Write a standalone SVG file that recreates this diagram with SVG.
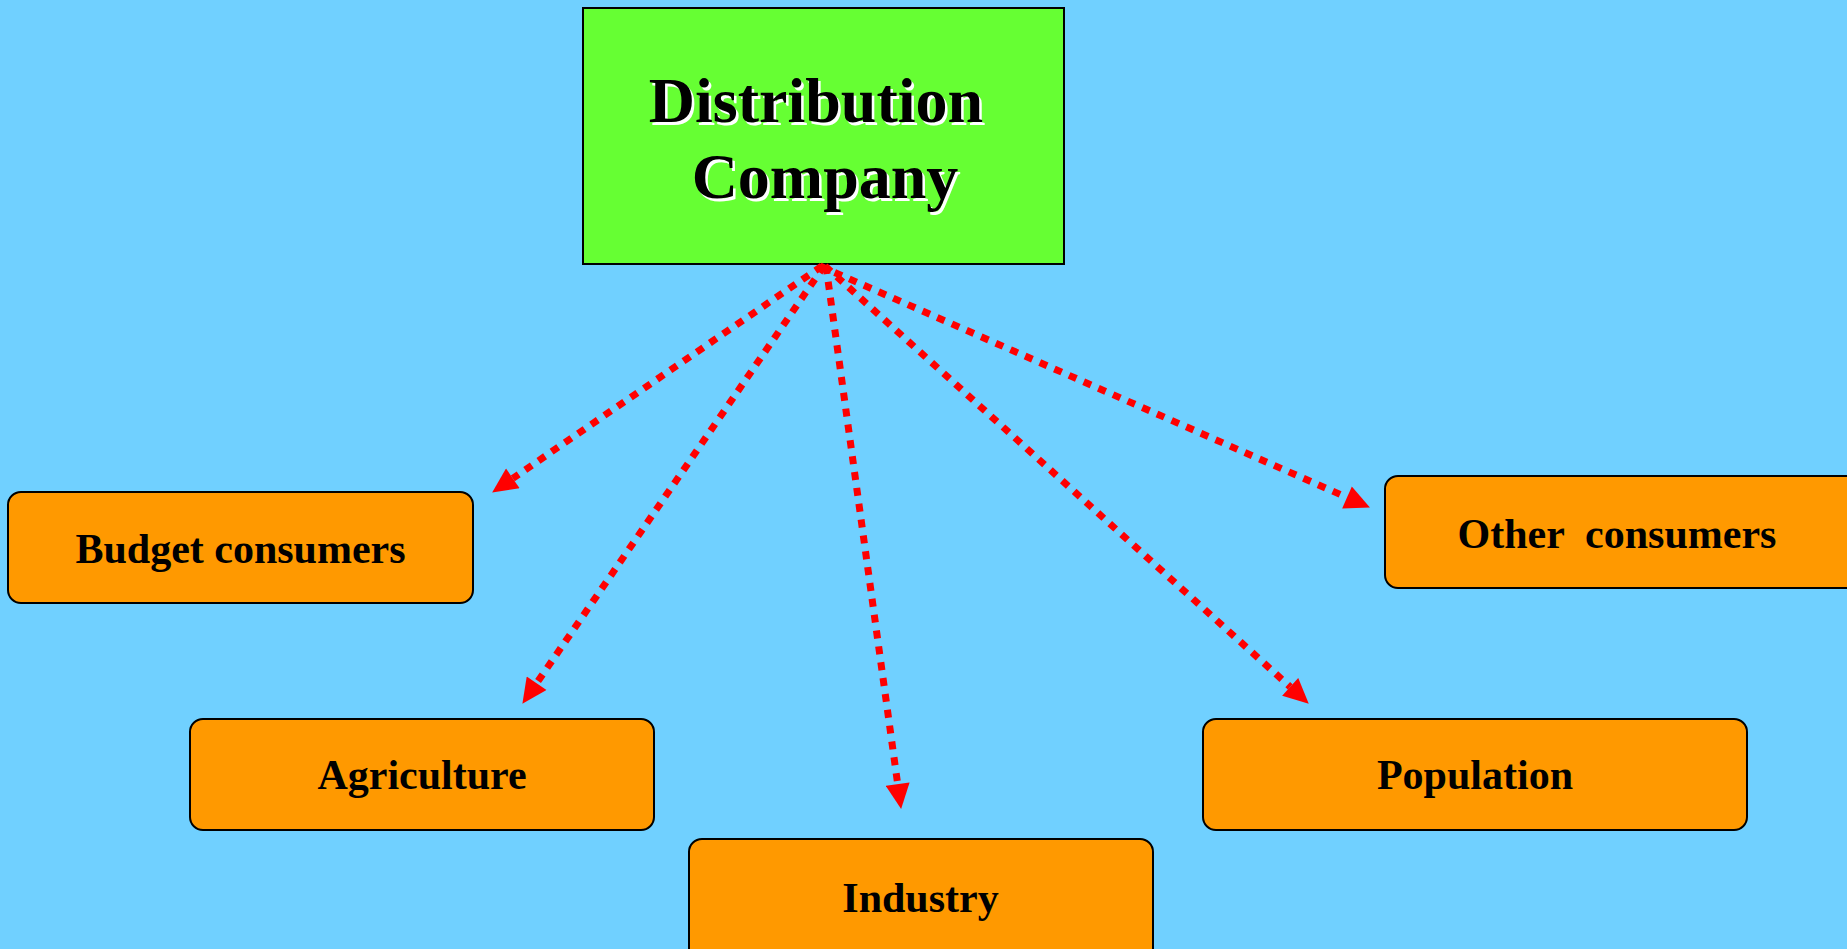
<svg xmlns="http://www.w3.org/2000/svg" width="1847" height="949" viewBox="0 0 1847 949">
<style>
.bg{fill:#70D0FF}
.main{fill:#66FF33;stroke:#000;stroke-width:2}
.box{fill:#FF9900;stroke:#000;stroke-width:2}
.t{font-family:"Liberation Serif","Times New Roman",serif;font-weight:bold;font-size:42px;fill:#000;text-anchor:middle}
.tt{font-family:"Liberation Serif","Times New Roman",serif;font-weight:bold;font-size:64px;text-anchor:middle}
.sh{fill:#fff}
.ink{fill:#000}
.c{fill:none;stroke:#FF0000;stroke-width:7;stroke-dasharray:8 8;marker-end:url(#ah)}
</style>
<defs>
<marker id="ah" markerUnits="userSpaceOnUse" markerWidth="26" markerHeight="24" refX="0" refY="11.5" orient="auto" viewBox="0 0 24 23">
<path d="M0,0 L24,11.5 L0,23 Z" fill="#FF0000"/>
</marker>
</defs>
<rect class="bg" x="0" y="0" width="1847" height="949"/>
<g id="distribution-company">
<rect class="main" x="583" y="8" width="481" height="256"/>
<text class="tt sh" x="818.5" y="124.5">Distribution</text>
<text class="tt ink" x="816" y="122">Distribution</text>
<text class="tt sh" x="827.5" y="200.5">Company</text>
<text class="tt ink" x="825" y="198">Company</text>
</g>
<g id="connectors">
<path class="c" d="M822,266 L512.8,478.4"/>
<path class="c" d="M824,266 L536.6,683.2"/>
<path class="c" d="M826,266 L897.7,784.2"/>
<path class="c" d="M825,266 L1290.2,686.9"/>
<path class="c" d="M820,266 L1347,497.4"/>
</g>
<g id="budget-consumers">
<rect class="box" x="8" y="492" width="465" height="111" rx="13"/>
<text class="t" x="240.5" y="563">Budget consumers</text>
</g>
<g id="other-consumers">
<rect class="box" x="1385" y="476" width="475" height="112" rx="13"/>
<text class="t" x="1617" y="548" xml:space="preserve">Other  consumers</text>
</g>
<g id="agriculture">
<rect class="box" x="190" y="719" width="464" height="111" rx="13"/>
<text class="t" x="422" y="789">Agriculture</text>
</g>
<g id="population">
<rect class="box" x="1203" y="719" width="544" height="111" rx="13"/>
<text class="t" x="1475" y="789">Population</text>
</g>
<g id="industry">
<rect class="box" x="689" y="839" width="464" height="125" rx="13"/>
<text class="t" x="920.5" y="912">Industry</text>
</g>
</svg>
